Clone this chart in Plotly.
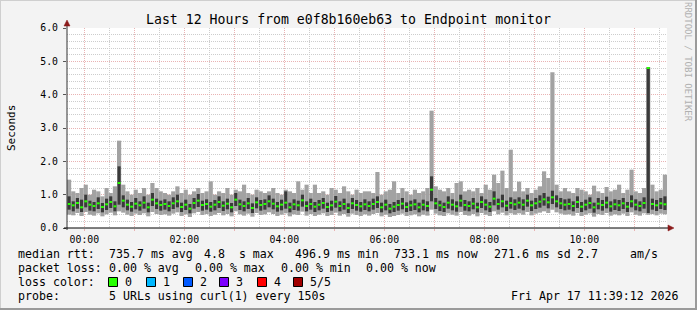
import plotly.graph_objects as go
import pandas as pd

# ---------------- data (5-minute buckets, 12 hours) ----------------
start_time = "2026-04-16 23:39:12"
end_time = "2026-04-17 11:39:12"
bucket_minutes = 5

smoke_max = [
    1.45, 1.10, 1.05, 1.20, 1.30, 1.00, 1.15, 1.10, 0.95, 1.20, 1.05, 1.25,
    2.62, 1.30, 1.10, 1.00, 1.15, 1.05, 1.20, 1.00, 1.35, 1.20, 1.10, 1.05,
    1.00, 1.10, 1.25, 1.05, 1.15, 1.00, 1.10, 1.20, 1.05, 1.10, 1.40, 1.00,
    1.10, 1.05, 1.20, 1.00, 1.15, 1.10, 1.30, 1.05, 1.00, 1.15, 1.10, 1.05,
    1.10, 1.20, 1.05, 1.00, 1.15, 1.10, 1.05, 1.40, 1.15, 1.30, 1.05, 1.30,
    1.05, 1.10, 1.00, 1.20, 1.15, 1.05, 1.25, 1.10, 1.00, 1.15, 1.05, 1.10,
    1.10, 1.05, 1.68, 1.00, 1.10, 1.15, 1.40, 1.05, 1.20, 1.10, 1.00, 1.15,
    1.05, 1.10, 1.20, 3.52, 1.25, 1.15, 1.10, 1.20, 1.05, 1.35, 1.40, 1.10,
    1.15, 1.10, 1.20, 1.05, 1.30, 1.15, 1.60, 1.35, 1.72, 1.20, 2.35, 1.10,
    1.39, 1.10, 1.20, 1.05, 1.15, 1.25, 1.70, 1.50, 4.67, 1.30, 1.10, 1.20,
    1.10, 1.05, 1.20, 1.15, 1.10, 1.00, 1.27, 1.10, 1.05, 1.23, 1.10, 1.15,
    1.30, 1.05, 1.15, 1.75, 1.10, 1.05, 1.20, 4.82, 1.30, 1.10, 1.15, 1.60,
]
smoke_min = [
    0.40, 0.38, 0.45, 0.36, 0.48, 0.40, 0.37, 0.44, 0.35, 0.41, 0.46, 0.38,
    0.50, 0.46, 0.40, 0.36, 0.43, 0.39, 0.44, 0.35, 0.48, 0.42, 0.39, 0.41,
    0.37, 0.43, 0.47, 0.36, 0.41, 0.33, 0.44, 0.48, 0.39, 0.42, 0.36, 0.40,
    0.45, 0.38, 0.42, 0.35, 0.50, 0.41, 0.37, 0.43, 0.34, 0.45, 0.39, 0.41,
    0.47, 0.42, 0.36, 0.40, 0.44, 0.35, 0.41, 0.39, 0.49, 0.37, 0.42, 0.36,
    0.40, 0.44, 0.36, 0.39, 0.46, 0.37, 0.42, 0.34, 0.43, 0.39, 0.36, 0.41,
    0.37, 0.42, 0.45, 0.35, 0.40, 0.33, 0.36, 0.39, 0.43, 0.36, 0.38, 0.41,
    0.35, 0.40, 0.37, 0.55, 0.43, 0.38, 0.36, 0.44, 0.40, 0.37, 0.48, 0.39,
    0.37, 0.42, 0.35, 0.45, 0.40, 0.36, 0.50, 0.41, 0.46, 0.38, 0.44, 0.40,
    0.44, 0.40, 0.48, 0.38, 0.43, 0.46, 0.50, 0.45, 0.55, 0.47, 0.43, 0.40,
    0.41, 0.37, 0.45, 0.36, 0.40, 0.44, 0.34, 0.42, 0.39, 0.45, 0.37, 0.41,
    0.38, 0.43, 0.36, 0.47, 0.40, 0.37, 0.44, 0.40, 0.42, 0.38, 0.43, 0.41,
]
dark_hi = [
    0.95, 0.80, 0.90, 0.85, 1.00, 0.82, 0.78, 0.92, 0.75, 0.88, 0.95, 0.80,
    1.85, 0.98, 0.85, 0.78, 0.90, 0.80, 0.95, 0.76, 1.05, 0.88, 0.82, 0.86,
    0.80, 0.92, 1.00, 0.76, 0.85, 0.72, 0.90, 1.02, 0.82, 0.86, 0.78, 0.84,
    0.95, 0.80, 0.88, 0.75, 1.05, 0.85, 0.80, 0.90, 0.74, 0.92, 0.84, 0.86,
    0.98, 0.88, 0.78, 0.85, 1.10, 0.76, 0.86, 0.82, 1.00, 0.80, 0.88, 0.78,
    0.84, 0.90, 0.76, 0.82, 0.96, 0.80, 0.88, 0.74, 0.90, 0.84, 0.78, 0.86,
    0.80, 0.88, 0.95, 0.76, 0.85, 0.72, 0.78, 0.84, 0.90, 0.77, 0.82, 0.86,
    0.76, 0.85, 0.80, 1.55, 0.90, 0.82, 0.76, 0.95, 0.86, 0.80, 1.00, 0.84,
    0.80, 0.90, 0.76, 0.95, 0.86, 0.78, 1.10, 0.88, 1.00, 0.82, 0.92, 0.86,
    0.92, 0.86, 1.00, 0.82, 0.90, 0.98, 1.05, 0.94, 1.12, 0.98, 0.90, 0.86,
    0.88, 0.80, 0.95, 0.78, 0.85, 0.92, 0.76, 0.90, 0.84, 0.94, 0.80, 0.86,
    0.84, 0.90, 0.78, 0.98, 0.86, 0.80, 0.92, 4.82, 0.88, 0.84, 0.90, 0.95,
]
dark_lo = [
    0.55, 0.50, 0.58, 0.48, 0.62, 0.52, 0.50, 0.57, 0.47, 0.54, 0.60, 0.50,
    0.70, 0.62, 0.53, 0.49, 0.56, 0.52, 0.58, 0.47, 0.66, 0.57, 0.52, 0.55,
    0.50, 0.57, 0.62, 0.48, 0.54, 0.44, 0.58, 0.63, 0.52, 0.55, 0.49, 0.53,
    0.60, 0.51, 0.56, 0.47, 0.66, 0.54, 0.50, 0.57, 0.45, 0.59, 0.52, 0.55,
    0.62, 0.56, 0.49, 0.53, 0.58, 0.47, 0.54, 0.52, 0.64, 0.50, 0.55, 0.48,
    0.53, 0.58, 0.48, 0.52, 0.61, 0.50, 0.55, 0.45, 0.57, 0.52, 0.49, 0.54,
    0.50, 0.55, 0.60, 0.47, 0.53, 0.44, 0.48, 0.52, 0.56, 0.48, 0.51, 0.54,
    0.47, 0.53, 0.50, 0.80, 0.57, 0.51, 0.48, 0.58, 0.53, 0.49, 0.64, 0.52,
    0.50, 0.56, 0.47, 0.60, 0.53, 0.48, 0.68, 0.55, 0.62, 0.51, 0.58, 0.54,
    0.58, 0.53, 0.64, 0.51, 0.57, 0.61, 0.67, 0.59, 0.72, 0.62, 0.57, 0.53,
    0.55, 0.50, 0.60, 0.48, 0.53, 0.58, 0.46, 0.56, 0.52, 0.59, 0.49, 0.54,
    0.51, 0.57, 0.48, 0.62, 0.53, 0.50, 0.58, 0.45, 0.55, 0.51, 0.57, 0.54,
]
median_rtt = [
    0.72, 0.68, 0.75, 0.62, 0.80, 0.70, 0.66, 0.74, 0.63, 0.71, 0.78, 0.65,
    1.35, 0.82, 0.70, 0.64, 0.73, 0.68, 0.76, 0.62, 0.85, 0.74, 0.69, 0.72,
    0.66, 0.74, 0.80, 0.63, 0.70, 0.58, 0.75, 0.82, 0.69, 0.72, 0.64, 0.70,
    0.78, 0.67, 0.73, 0.62, 0.85, 0.71, 0.66, 0.74, 0.60, 0.77, 0.69, 0.72,
    0.80, 0.73, 0.65, 0.70, 0.76, 0.62, 0.71, 0.68, 0.83, 0.66, 0.72, 0.64,
    0.70, 0.75, 0.63, 0.68, 0.79, 0.66, 0.72, 0.60, 0.74, 0.69, 0.65, 0.71,
    0.66, 0.72, 0.78, 0.62, 0.70, 0.58, 0.64, 0.69, 0.73, 0.63, 0.68, 0.71,
    0.62, 0.70, 0.66, 1.15, 0.74, 0.68, 0.63, 0.76, 0.70, 0.65, 0.82, 0.69,
    0.66, 0.73, 0.62, 0.78, 0.70, 0.64, 0.88, 0.72, 0.80, 0.67, 0.75, 0.71,
    0.76, 0.70, 0.82, 0.68, 0.74, 0.79, 0.86, 0.77, 0.92, 0.80, 0.74, 0.70,
    0.72, 0.66, 0.78, 0.64, 0.70, 0.75, 0.62, 0.73, 0.69, 0.76, 0.65, 0.71,
    0.68, 0.74, 0.64, 0.80, 0.70, 0.66, 0.75, 4.80, 0.72, 0.68, 0.74, 0.71,
]

hour_ticks = ["2026-04-17 %02d:00" % h for h in range(12)]
hour_labels = ["00:00", "", "02:00", "", "04:00", "", "06:00", "", "08:00", "", "10:00", ""]

title_text = "Last 12 Hours from e0f8b160eb63 to Endpoint monitor"
stats_rows = [
    [("median rtt:", 16), ("735.7 ms avg", 107), ("4.8\u00a0\u00a0s max", 202),
     ("496.9 ms min", 293), ("733.1 ms now", 392), ("271.6 ms sd", 492),
     ("2.7", 575), ("am/s", 628)],
    [("packet loss:", 16), ("0.00 % avg", 107), ("0.00 % max", 193),
     ("0.00 % min", 279), ("0.00 % now", 364)],
]
loss_labels = ["0", "1", "2", "3", "4", "5/5"]
loss_colors = ["#26ff00", "#00b8ff", "#0059ff", "#7e00ff", "#ff0000", "#a10000"]
probe_text = "5 URLs using curl(1) every 150s"
stamp_text = "Fri Apr 17 11:39:12 2026"

# ---------------- figure ----------------
W, H = 697, 310
L, T, PW, PH = 67, 28, 600, 200

def px(xp):
    return (xp - L) / PW

def py(yp):
    return (T + PH - yp) / PH

n = len(smoke_max)
centers = pd.date_range(pd.Timestamp(start_time) + pd.Timedelta(minutes=bucket_minutes / 2),
                        periods=n, freq="%dmin" % bucket_minutes)
bw = bucket_minutes * 60 * 1000

fig = go.Figure()
fig.add_trace(go.Bar(x=centers, y=[a - b for a, b in zip(smoke_max, smoke_min)], base=smoke_min,
                     width=bw, marker=dict(color="#a2a2a2", line_width=0), hoverinfo="skip"))
fig.add_trace(go.Bar(x=centers, y=[a - b for a, b in zip(dark_hi, dark_lo)], base=dark_lo,
                     width=bw * 0.75, marker=dict(color="#3a3a3a", line_width=0), hoverinfo="skip"))
fig.add_trace(go.Bar(x=centers, y=[0.06] * n, base=[m - 0.03 for m in median_rtt],
                     width=bw * 0.7, marker=dict(color=loss_colors[0], line_width=0), hoverinfo="skip"))

mono = "DejaVu Sans Mono"
RED_GRID = "#e9b3b3"
GRAY_GRID = "#cdcdcd"
fig.update_layout(
    width=W, height=H, margin=dict(l=L, r=W - L - PW, t=T, b=H - T - PH),
    paper_bgcolor="#f3f3f3", plot_bgcolor="#ffffff",
    barmode="overlay", showlegend=False,
    font=dict(family=mono, color="#000000"),
)
fig.update_xaxes(
    type="date", range=[start_time, end_time],
    tickmode="array", tickvals=hour_ticks, ticktext=hour_labels,
    showgrid=True, gridcolor=RED_GRID, griddash="1px,1px", gridwidth=1,
    minor=dict(dtick=30 * 60 * 1000, tick0="2026-04-17 00:00", showgrid=True,
               gridcolor=GRAY_GRID, griddash="1px,1px", gridwidth=1),
    ticks="outside", ticklen=2, tickcolor=RED_GRID,
    tickfont=dict(family=mono, size=9.8, color="#000000"),
    showline=False, zeroline=False, fixedrange=True,
)
fig.update_yaxes(
    range=[0, 6], dtick=1, tickformat=".1f",
    showgrid=True, gridcolor=RED_GRID, griddash="1px,1px", gridwidth=1,
    minor=dict(dtick=0.2, showgrid=True, gridcolor=GRAY_GRID, griddash="1px,1px", gridwidth=1),
    ticks="outside", ticklen=3, tickcolor="#555555", ticklabelstandoff=3,
    tickfont=dict(family=mono, size=9.8, color="#000000"),
    showline=False, zeroline=False, fixedrange=True,
)

shapes = []
# outer border
shapes.append(dict(type="line", xref="paper", yref="paper", x0=px(0), x1=px(W), y0=py(0.5), y1=py(0.5),
                   line=dict(color="#cfcfcf", width=1)))
shapes.append(dict(type="line", xref="paper", yref="paper", x0=px(0.5), x1=px(0.5), y0=py(0), y1=py(H),
                   line=dict(color="#cfcfcf", width=1)))
shapes.append(dict(type="line", xref="paper", yref="paper", x0=px(0), x1=px(W), y0=py(H - 1), y1=py(H - 1),
                   line=dict(color="#9a9a9a", width=2)))
shapes.append(dict(type="line", xref="paper", yref="paper", x0=px(W - 1), x1=px(W - 1), y0=py(0), y1=py(H),
                   line=dict(color="#9a9a9a", width=2)))
# axes with arrows
shapes.append(dict(type="line", xref="paper", yref="paper", x0=0, x1=0, y0=py(T + PH + 2), y1=py(T - 4),
                   line=dict(color="#333333", width=1)))
shapes.append(dict(type="line", xref="paper", yref="paper", x0=px(L - 3), x1=px(L + PW + 4), y0=0, y1=0,
                   line=dict(color="#000000", width=1)))
shapes.append(dict(type="path", xref="paper", yref="paper",
                   path="M %f %f L %f %f L %f %f Z" % (px(L - 3), py(T - 2), px(L + 3), py(T - 2), px(L), py(T - 8)),
                   fillcolor="#8b1a1a", line=dict(color="#8b1a1a", width=0.5)))
shapes.append(dict(type="path", xref="paper", yref="paper",
                   path="M %f %f L %f %f L %f %f Z" % (px(L + PW + 1), py(T + PH - 3), px(L + PW + 1), py(T + PH + 3),
                                                      px(L + PW + 7), py(T + PH)),
                   fillcolor="#8b1a1a", line=dict(color="#8b1a1a", width=0.5)))

annotations = []

def txt(s, x, y, size=11.6, anchor="left", color="#000000", angle=0):
    annotations.append(dict(text=s, x=px(x), y=py(y), xref="paper", yref="paper", showarrow=False,
                            xanchor=anchor, yanchor="middle", textangle=angle,
                            font=dict(family=mono, size=size, color=color)))

txt(title_text, 348, 19, size=13.2, anchor="center")
txt("Seconds", 11, 128, size=11, anchor="center", angle=-90)
txt("RRDTOOL / TOBI OETIKER", 688, 62, size=9, anchor="center", color="#b0b0b0", angle=90)

row_y = [254, 268, 282, 296]
for r, items in enumerate(stats_rows):
    for s, x in items:
        txt(s.replace(" ", "\u00a0"), x, row_y[r])

txt("loss\u00a0color:", 16, row_y[2])
box_x = [108, 146, 183, 219, 257, 293]
for bx, lab, col in zip(box_x, loss_labels, loss_colors):
    shapes.append(dict(type="rect", xref="paper", yref="paper",
                       x0=px(bx + 0.5), x1=px(bx + 9.5), y0=py(row_y[2] + 4.5), y1=py(row_y[2] - 4.5),
                       fillcolor=col, line=dict(color="#000000", width=1)))
    txt(lab, bx + 15, row_y[2])

txt("probe:", 16, row_y[3])
txt(probe_text.replace(" ", "\u00a0"), 107, row_y[3])
txt(stamp_text.replace(" ", "\u00a0"), 681, row_y[3], anchor="right")

fig.update_layout(shapes=shapes, annotations=annotations)
fig.write_html("out.html")
